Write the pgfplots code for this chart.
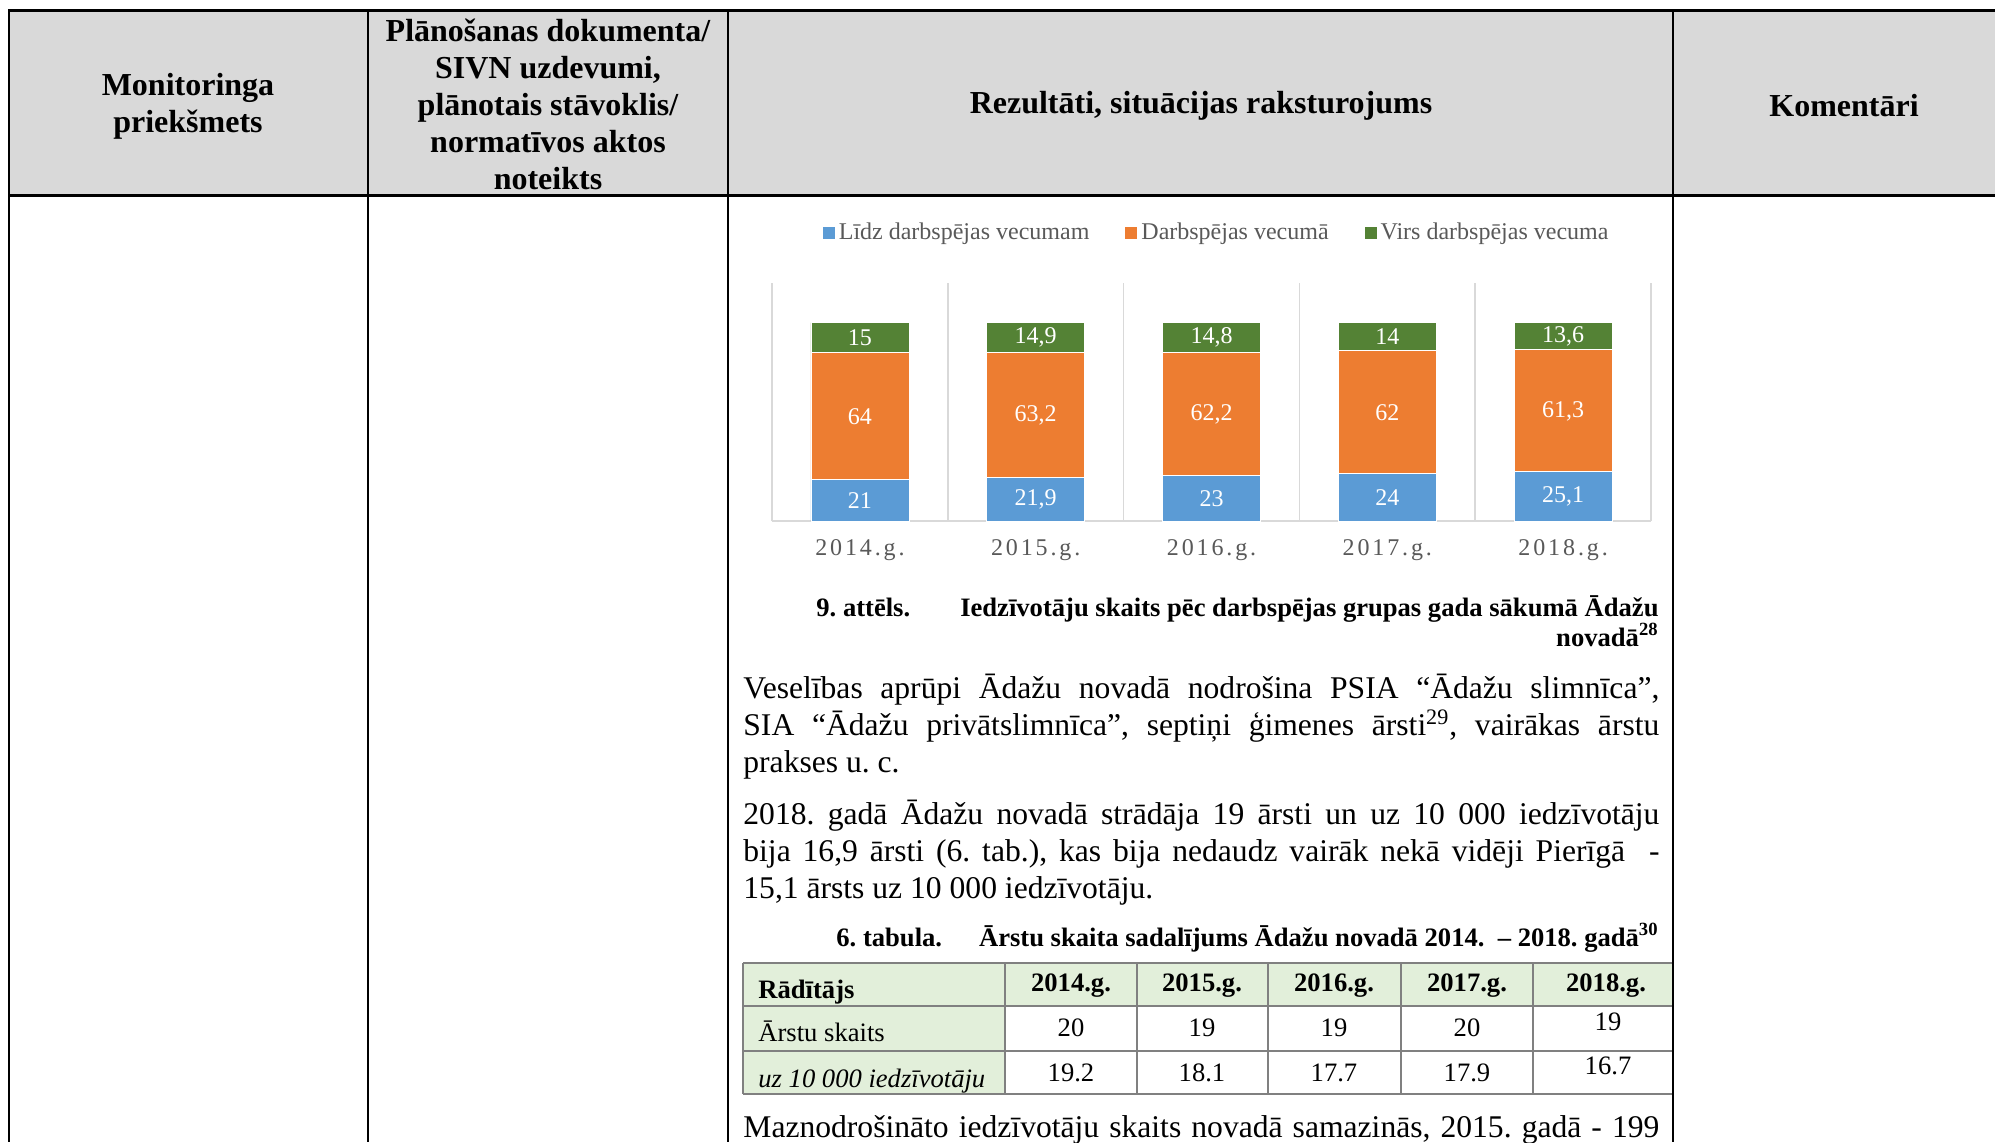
\documentclass[border=0pt]{standalone}
\usepackage{fontspec}
\setmainfont{Liberation Serif}
\newfontfamily\spacedfont[LetterSpace=12]{Liberation Serif}
\usepackage{pgfplots}
\pgfplotsset{compat=1.18}
\usepackage{pgfplotstable}
\definecolor{cblue}{HTML}{5B9BD5}
\definecolor{corange}{HTML}{ED7D31}
\definecolor{cgreen}{HTML}{548235}
\definecolor{gridgray}{HTML}{D9D9D9}
\definecolor{legtext}{HTML}{595959}
\definecolor{hdrgray}{HTML}{D9D9D9}
\definecolor{tabgreen}{HTML}{E2EFDA}
\definecolor{tabline}{HTML}{808080}
\newcommand\hdr{\bfseries\fontsize{16}{18.5}\selectfont}
\newcommand\bodyf{\fontsize{15.8}{18.5}\selectfont}
\newcommand\capf{\bfseries\fontsize{13.3}{16}\selectfont}
\newcommand\tabf{\fontsize{13.3}{16}\selectfont}
\newcommand\chartf{\fontsize{12}{14}\selectfont}

\pgfplotstableread{
x lidz darb virs
0.5 21 64 15
1.5 21.9 63.2 14.9
2.5 23 62.2 14.8
3.5 24 62 14
4.5 25.1 61.3 13.6
}\agedata
\pgfplotstableread{
x y lab
0.5 10.5 21
1.5 10.95 21,9
2.5 11.5 23
3.5 12 24
4.5 12.55 25,1
}\labblue
\pgfplotstableread{
x y lab
0.5 52.5 64
1.5 53 63,2
2.5 53.6 62,2
3.5 54.5 62
4.5 55.25 61,3
}\laborange
\pgfplotstableread{
x y lab
0.5 92.5 15
1.5 92.55 14,9
2.5 92.6 14,8
3.5 93 14
4.5 93.2 13,6
}\labgreen

\begin{document}
\frenchspacing
\begin{tikzpicture}[x=0.5pt,y=0.5pt]
\path[use as bounding box] (0,0) rectangle (1995,-1142);
\clip (0,0) rectangle (1995,-1142);
\fill[white] (0,0) rectangle (1995,-1142);
% header
\fill[hdrgray] (9,-10) rectangle (1995,-195);
\node[font=\hdr, align=center] at (188,-106) {Monitoringa\\priekšmets};
\node[font=\hdr, align=center] at (548,-104) {Plānošanas dokumenta/\\SIVN uzdevumi,\\plānotais stāvoklis/\\normatīvos aktos\\noteikts};
\node[font=\hdr] at (1201,-106) {Rezultāti, situācijas raksturojums};
\node[font=\hdr] at (1844,-106) {Komentāri};

% chart
\begin{axis}[
  at={(386pt,-260.5pt)}, anchor=south west,
  scale only axis, width=439.5pt, height=119pt,
  xmin=0, xmax=5, ymin=0, ymax=120,
  ybar stacked, bar width=49pt,
  axis x line=bottom, axis y line=none,
  axis line style={-, draw=gridgray, line width=1pt},
  xtick={0.5,1.5,2.5,3.5,4.5},
  xticklabels={2014.g.,2015.g.,2016.g.,2017.g.,2018.g.},
  minor xtick={0,1,2,3,4,5},
  xminorgrids=true,
  minor grid style={draw=gridgray, line width=0.75pt},
  major tick length=0pt, minor tick length=0pt,
  xticklabel style={font=\spacedfont\fontsize{12}{14}\selectfont, text=legtext, anchor=center, yshift=-14.5pt},
  legend style={at={(0.507,1.21)}, anchor=center, draw=none, fill=none,
    font=\chartf, text=legtext, legend columns=3, inner sep=0pt,
    /tikz/every even column/.append style={column sep=16pt}},
  legend image code/.code={\fill[#1,draw=none] (0pt,-3pt) rectangle (6pt,3pt);},
  clip=false,
]
\addplot[fill=cblue, draw=white, line width=0.3pt] table[x=x,y=lidz] {\agedata};
\addplot[fill=corange, draw=white, line width=0.3pt] table[x=x,y=darb] {\agedata};
\addplot[fill=cgreen, draw=white, line width=0.3pt] table[x=x,y=virs] {\agedata};
\legend{Līdz darbspējas vecumam, Darbspējas vecumā, Virs darbspējas vecuma}
\end{axis}
\begin{axis}[
  at={(386pt,-260.5pt)}, anchor=south west,
  scale only axis, width=439.5pt, height=119pt,
  xmin=0, xmax=5, ymin=0, ymax=120,
  hide axis, clip=false,
  nodes near coords, point meta=explicit symbolic,
  every node near coord/.append style={font=\chartf, text=white, anchor=center, inner sep=0pt},
]
\addplot[draw=none, mark=none] table[x=x,y=y,meta=lab] {\labblue};
\addplot[draw=none, mark=none] table[x=x,y=y,meta=lab] {\laborange};
\addplot[draw=none, mark=none] table[x=x,y=y,meta=lab] {\labgreen};
\end{axis}

% caption
\node[font=\capf, anchor=base west, inner sep=0pt] at (816,-616) {9. attēls.};
\node[font=\capf, anchor=base east, inner sep=0pt] at (1659,-616) {Iedzīvotāju skaits pēc darbspējas grupas gada sākumā Ādažu};
\node[font=\capf, anchor=base east, inner sep=0pt] at (1659,-646) {novadā\textsuperscript{28}};

% body text
\begin{scope}[every node/.style={font=\bodyf, anchor=base west, inner sep=0pt}]
\node at (743,-698) {\makebox[458pt][s]{Veselības aprūpi Ādažu novadā nodrošina PSIA “Ādažu slimnīca”,}};
\node at (743,-735) {\makebox[458pt][s]{SIA “Ādažu privātslimnīca”, septiņi ģimenes ārsti\textsuperscript{29}, vairākas ārstu}};
\node at (743,-772) {prakses u. c.};
\node at (743,-824) {\makebox[458pt][s]{2018. gadā Ādažu novadā strādāja 19 ārsti un uz 10 000 iedzīvotāju}};
\node at (743,-861) {\makebox[458pt][s]{bija 16,9 ārsti (6. tab.), kas bija nedaudz vairāk nekā vidēji Pierīgā \ -}};
\node at (743,-898) {15,1 ārsts uz 10 000 iedzīvotāju.};
\node at (743,-1137) {\makebox[458pt][s]{Maznodrošināto iedzīvotāju skaits novadā samazinās, 2015. gadā - 199}};
\end{scope}

% table title
\node[font=\capf, anchor=base west, inner sep=0pt] at (836,-946) {6. tabula.};
\node[font=\capf, anchor=base east, inner sep=0pt] at (1659,-946) {Ārstu skaita sadalījums Ādažu novadā 2014. \ – 2018. gadā\textsuperscript{30}};

% inner table
\fill[tabgreen] (743,-963) rectangle (1673,-1006);
\fill[tabgreen] (743,-1006) rectangle (1005,-1094);
\foreach \yy in {963,1006,1051,1094} {\draw[tabline, line width=1pt] (743,-\yy) -- (1673,-\yy);}
\foreach \xx in {743,1005,1137,1268,1401,1533} {\draw[tabline, line width=1pt] (\xx,-963) -- (\xx,-1094);}
\begin{scope}[every node/.style={font=\tabf, anchor=base, inner sep=0pt}]
\node[anchor=base west, font=\tabf\bfseries] at (758,-998) {Rādītājs};
\node[font=\tabf\bfseries] at (1071,-991) {2014.g.};
\node[font=\tabf\bfseries] at (1202,-991) {2015.g.};
\node[font=\tabf\bfseries] at (1334,-991) {2016.g.};
\node[font=\tabf\bfseries] at (1467,-991) {2017.g.};
\node[font=\tabf\bfseries] at (1606,-991) {2018.g.};
\node[anchor=base west] at (758,-1041) {Ārstu skaits};
\node at (1071,-1036) {20};
\node at (1202,-1036) {19};
\node at (1334,-1036) {19};
\node at (1467,-1036) {20};
\node at (1608,-1030) {19};
\node[anchor=base west, font=\tabf\itshape] at (758,-1087) {uz 10 000 iedzīvotāju};
\node at (1071,-1081) {19.2};
\node at (1202,-1081) {18.1};
\node at (1334,-1081) {17.7};
\node at (1467,-1081) {17.9};
\node at (1608,-1074) {16.7};
\end{scope}

% outer table lines
\draw[black, line width=1.5pt] (8,-10) -- (1995,-10);
\draw[black, line width=1.5pt] (8,-195) -- (1995,-195);
\foreach \xx in {9,368,728,1673} {\draw[black, line width=1.2pt] (\xx,-10) -- (\xx,-1142);}
\end{tikzpicture}
\end{document}
